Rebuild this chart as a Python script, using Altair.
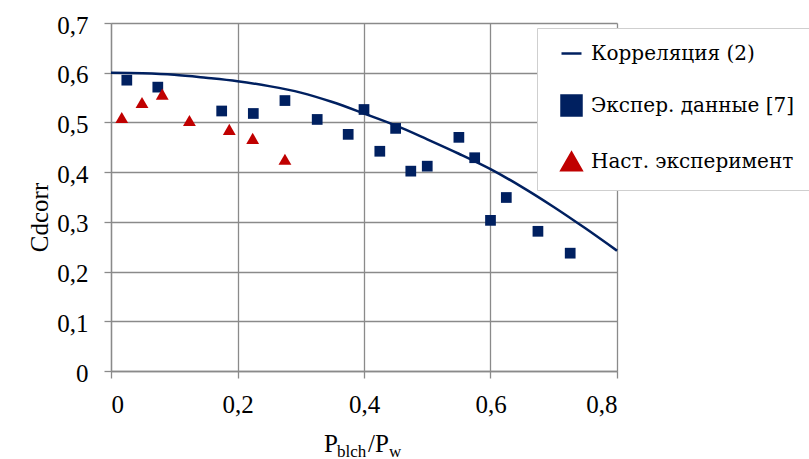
import altair as alt
import pandas as pd

# ---- data ----
corr_x = [0.0, 0.05, 0.1, 0.15, 0.2, 0.25, 0.3, 0.35, 0.4, 0.45, 0.5, 0.55, 0.6, 0.65, 0.7, 0.75, 0.8]
corr_y = [0.600, 0.599, 0.596, 0.590, 0.583, 0.573, 0.560, 0.541, 0.518, 0.494, 0.466, 0.437, 0.406, 0.370, 0.330, 0.287, 0.242]

exp_x = [0.025, 0.074, 0.175, 0.225, 0.275, 0.326, 0.375, 0.400, 0.425, 0.450, 0.474, 0.500, 0.550, 0.575, 0.600, 0.625, 0.675, 0.726]
exp_y = [0.585, 0.571, 0.523, 0.518, 0.544, 0.506, 0.476, 0.526, 0.442, 0.488, 0.402, 0.412, 0.470, 0.429, 0.303, 0.349, 0.281, 0.237]

nast_x = [0.017, 0.049, 0.081, 0.124, 0.187, 0.224, 0.275]
nast_y = [0.510, 0.540, 0.557, 0.504, 0.486, 0.468, 0.426]

series_names = ["Корреляция (2)", "Экспер. данные [7]", "Наст. эксперимент"]
x_ticks = [0, 0.2, 0.4, 0.6, 0.8]
y_ticks = [0, 0.1, 0.2, 0.3, 0.4, 0.5, 0.6, 0.7]
y_title = "Cdcorr"
x_title_parts = ["P", "blch", "/P", "w"]

NAVY = "#002060"
RED = "#C00000"
GRID = "#8a8a8a"
FONT = "Liberation Serif"
CYR_FONT = "DejaVu Serif"   # serif face with Cyrillic glyphs

corr_df = pd.DataFrame({"x": corr_x, "y": corr_y, "series": series_names[0]})
exp_df = pd.DataFrame({"x": exp_x, "y": exp_y, "series": series_names[1]})
nast_df = pd.DataFrame({"x": nast_x, "y": nast_y, "series": series_names[2]})

label_expr = "datum.value == 0 ? '0' : replace(format(datum.value, '.1f'), '.', ',')"

x_enc = alt.X("x:Q", scale=alt.Scale(domain=[0, 0.8], nice=False, zero=False),
              axis=alt.Axis(values=x_ticks, labelExpr=label_expr, title=None,
                            labelPadding=14, tickSize=7))
y_enc = alt.Y("y:Q", scale=alt.Scale(domain=[0, 0.7], nice=False),
              axis=alt.Axis(values=y_ticks, labelExpr=label_expr, title=y_title,
                            labelPadding=16, tickSize=7, labelOffset=2,
                            titleX=-64, titleY=194, titleBaseline="alphabetic",
                            titleAngle=270))

color_scale = alt.Scale(domain=series_names, range=[NAVY, NAVY, RED])
shape_scale = alt.Scale(domain=series_names, range=["stroke", "square", "triangle-up"])

legend = alt.Legend(title=None, orient="none", legendX=426, legendY=5,
                    fillColor="white", strokeColor="#cfcfcf",
                    padding=14, symbolOffset=9, rowPadding=26,
                    labelFont=CYR_FONT, labelFontSize=20, labelColor="black",
                    labelOffset=8, symbolSize=400, symbolStrokeWidth=2.5,
                    labelLimit=400)

color_enc = alt.Color("series:N", scale=color_scale, legend=legend)
shape_enc = alt.Shape("series:N", scale=shape_scale, legend=legend)

line = alt.Chart(corr_df).mark_line(strokeWidth=2.5, interpolate="monotone").encode(
    x=x_enc, y=y_enc, color=color_enc)

squares = alt.Chart(exp_df).mark_point(filled=True, opacity=1, size=115).encode(
    x=x_enc, y=y_enc, color=color_enc, shape=shape_enc)

triangles = alt.Chart(nast_df).mark_point(filled=True, opacity=1, size=165).encode(
    x=x_enc, y=y_enc, color=color_enc, shape=shape_enc)

# x-axis title with subscripts built from text pieces
piece_pos = [(213, 428.7, 25), (226, 433.5, 17), (257, 428.7, 25), (278, 433.5, 17)]
pieces = []
for txt, (px, py, fs) in zip(x_title_parts, piece_pos):
    pieces.append(
        alt.Chart(pd.DataFrame({"t": [txt]})).mark_text(
            align="left", baseline="alphabetic", font=FONT, fontSize=fs, color="black"
        ).encode(x=alt.value(px), y=alt.value(py), text="t:N")
    )

chart = alt.layer(line, squares, triangles, *pieces).properties(
    width=506, height=348,
    padding={"left": 111, "top": 23, "right": 192, "bottom": 88},
    autosize=alt.AutoSizeParams(type="none"),
    background="white",
).configure_view(stroke=None).configure_axis(
    labelFont=FONT, labelFontSize=25, labelColor="black",
    titleFont=FONT, titleFontSize=25, titleColor="black", titleFontWeight="normal",
    domainColor=GRID, domainWidth=1.3, tickColor=GRID, tickWidth=1.3,
    gridColor=GRID, gridWidth=1.3, gridOpacity=1,
)

chart.save("out.html", embed_options={"renderer": "svg", "actions": False})
